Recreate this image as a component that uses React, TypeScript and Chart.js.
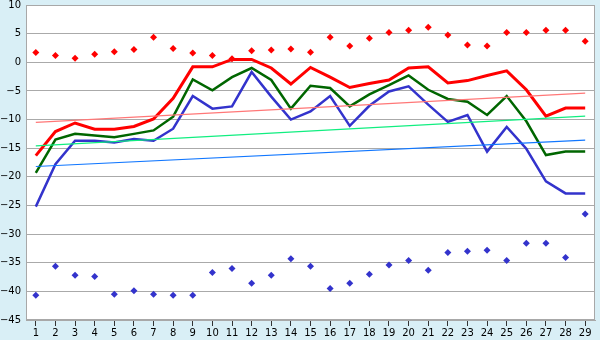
import React, { useEffect, useRef } from "react";
import { Chart, registerables } from "chart.js";

Chart.register(...registerables);

const categories = ["1","2","3","4","5","6","7","8","9","10","11","12","13","14","15","16","17","18","19","20","21","22","23","24","25","26","27","28","29"];

const redLine = [-16.3,-12.1,-10.6,-11.7,-11.7,-11.2,-9.9,-6.3,-0.8,-0.8,0.5,0.5,-1.0,-3.8,-0.9,-2.6,-4.4,-3.7,-3.1,-1.0,-0.8,-3.6,-3.2,-2.3,-1.5,-4.8,-9.4,-8.0,-8.0];
const greenLine = [-19.3,-13.5,-12.5,-12.8,-13.1,-12.5,-11.9,-9.5,-3.0,-4.9,-2.6,-1.0,-3.1,-8.1,-4.1,-4.5,-7.7,-5.6,-4.0,-2.3,-4.8,-6.4,-6.9,-9.2,-5.9,-10.3,-16.2,-15.6,-15.6];
const blueLine = [-25.2,-17.8,-13.7,-13.7,-14.0,-13.4,-13.7,-11.6,-5.9,-8.1,-7.7,-1.7,-6.0,-10.0,-8.6,-5.9,-11.1,-7.6,-5.1,-4.2,-7.4,-10.4,-9.2,-15.6,-11.3,-15.1,-20.8,-22.9,-22.9];
const redDots = [1.7,1.2,0.7,1.4,1.85,2.25,4.35,2.4,1.6,1.2,0.6,2.0,2.15,2.3,1.75,4.35,2.85,4.2,5.2,5.6,6.1,4.75,3.0,2.85,5.2,5.2,5.6,5.6,3.65];
const blueDots = [-40.7,-35.6,-37.2,-37.4,-40.5,-39.9,-40.5,-40.7,-40.7,-36.7,-36.0,-38.6,-37.2,-34.3,-35.6,-39.5,-38.6,-37.0,-35.4,-34.6,-36.3,-33.2,-33.0,-32.8,-34.6,-31.6,-31.6,-34.1,-26.5];
// trend lines: [value at first category, value at last category]
const redTrend = [-10.5, -5.4];
const greenTrend = [-14.6, -9.4];
const blueTrend = [-18.2, -13.6];

const yMin = -45;
const yMax = 10;
const yStep = 5;

function endpoints(pair: number[]) {
  return categories.map((_, i) => (i === 0 ? pair[0] : i === categories.length - 1 ? pair[1] : null));
}

const bgPlugin = {
  id: "bgPlugin",
  beforeDraw(chart: any) {
    const { ctx, chartArea } = chart;
    ctx.save();
    ctx.fillStyle = "#d9eff6";
    ctx.fillRect(0, 0, chart.width, chart.height);
    ctx.fillStyle = "#ffffff";
    ctx.fillRect(chartArea.left, chartArea.top, chartArea.right - chartArea.left, chartArea.bottom - chartArea.top);
    ctx.restore();
  },
  afterDraw(chart: any) {
    const { ctx, chartArea } = chart;
    ctx.save();
    ctx.strokeStyle = "#a8a8a8";
    ctx.lineWidth = 1;
    ctx.strokeRect(chartArea.left + 0.5, chartArea.top + 0.5, chartArea.right - chartArea.left - 1, chartArea.bottom - chartArea.top - 1);
    ctx.restore();
  },
};

export default function App() {
  const ref = useRef<HTMLCanvasElement>(null);
  useEffect(() => {
    if (!ref.current) return;
    const font = { family: "DejaVu Sans", size: 10 };
    const chart = new Chart(ref.current, {
      type: "line",
      data: {
        labels: categories,
        datasets: [
          { data: endpoints(redTrend), borderColor: "#ff7777", borderWidth: 1.2, pointRadius: 0, spanGaps: true },
          { data: endpoints(greenTrend), borderColor: "#11ee80", borderWidth: 1.2, pointRadius: 0, spanGaps: true },
          { data: endpoints(blueTrend), borderColor: "#1177ff", borderWidth: 1.2, pointRadius: 0, spanGaps: true },
          { data: blueLine, borderColor: "#3333cc", borderWidth: 2.5, pointRadius: 0 },
          { data: greenLine, borderColor: "#006600", borderWidth: 2.5, pointRadius: 0 },
          { data: redLine, borderColor: "#ff0000", borderWidth: 3, pointRadius: 0 },
          { data: redDots, showLine: false, pointStyle: "rectRot", pointRadius: 3.5, pointBackgroundColor: "#ff0000", pointBorderWidth: 0, borderColor: "#ff0000" },
          { data: blueDots, showLine: false, pointStyle: "rectRot", pointRadius: 3.5, pointBackgroundColor: "#3333cc", pointBorderWidth: 0, borderColor: "#3333cc" },
        ],
      },
      options: {
        animation: false,
        responsive: false,
        layout: { padding: { top: 5, right: 5, left: 0, bottom: 0 } },
        plugins: { legend: { display: false }, tooltip: { enabled: false } },
        elements: { line: { tension: 0 } },
        scales: {
          x: {
            offset: true,
            grid: { display: true, drawOnChartArea: false, drawTicks: true, tickLength: 6, color: "#333333", offset: false },
            border: { display: true, color: "#a8a8a8" },
            ticks: { font, color: "#000000", padding: 1, maxRotation: 0, autoSkip: false },
            afterFit(scale: any) { scale.height = 20; scale.paddingLeft = 0; scale.paddingRight = 0; },
          },
          y: {
            min: yMin,
            max: yMax,
            grid: { color: "#aaaaaa", lineWidth: 1, drawTicks: false },
            border: { display: true, color: "#a8a8a8" },
            ticks: {
              stepSize: yStep,
              font,
              color: "#000000",
              padding: 5,
              callback: (v: any) => String(v).replace("-", "\u2212"),
            },
            afterFit(scale: any) { scale.width = 26; scale.paddingTop = 0; scale.paddingBottom = 0; },
          },
        },
      },
      plugins: [bgPlugin],
    });
    return () => chart.destroy();
  }, []);
  return (
    <div style={{ position: "fixed", left: 0, top: 0, width: 600, height: 340 }}>
      <canvas ref={ref} width={600} height={340} style={{ display: "block" }} />
    </div>
  );
}
